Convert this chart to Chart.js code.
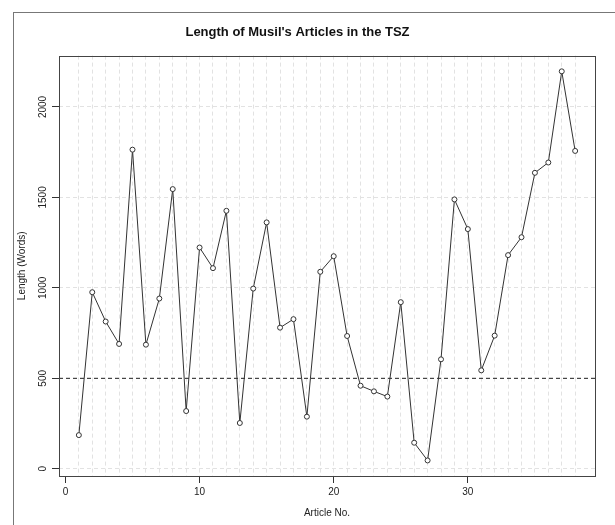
<!DOCTYPE html>
<html>
<head>
<meta charset="utf-8">
<script src="https://cdn.jsdelivr.net/npm/chart.js@4"></script>
<style>
    body { margin: 0; background: #fff; }
    #wrap { position: relative; width: 615px; height: 525px; }
    #frame { position: absolute; left: 13px; top: 12px; right: 0; bottom: 0; border-left: 1px solid #777; border-top: 1px solid #777; pointer-events: none; }
</style>
</head>
<body>
<div id="wrap">
    <canvas id="myChart" width="615" height="525"></canvas>
    <div id="frame"></div>
</div>
<script>
// article numbers and lengths (words)
const articles = [1, 2, 3, 4, 5, 6, 7, 8, 9, 10, 11, 12, 13, 14, 15, 16, 17, 18, 19,
    20, 21, 22, 23, 24, 25, 26, 27, 28, 29, 30, 31, 32, 33, 34, 35, 36, 37, 38]
const lengths = [186, 976, 814, 690, 1764, 686, 941, 1546, 319, 1223, 1109, 1426, 253, 996, 1362,
    780, 827, 288, 1089, 1175, 734, 459, 428, 399, 921, 144, 46, 605, 1489, 1325, 544,
    736, 1181, 1280, 1636, 1693, 2197, 1757]
const refLine = 500
const xTicks = [0, 10, 20, 30]
const yTicks = [0, 500, 1000, 1500, 2000]

const xMin = -0.48
const xMax = 39.48

const font = 'Liberation Sans, Arial, Helvetica, sans-serif'

const boxPlugin = {
    id: 'box',
    afterDraw(chart) {
        const a = chart.chartArea
        const c = chart.ctx
        c.save()
        c.strokeStyle = '#444'
        c.lineWidth = 1
        c.strokeRect(Math.round(a.left) + 0.5, Math.round(a.top) + 0.5, Math.round(a.right - a.left), Math.round(a.bottom - a.top))
        c.restore()
    }
}

const ctx = document.getElementById('myChart').getContext('2d')
const myChart = new Chart(ctx, {
    type: 'line',
    data: {
        datasets: [{
            data: articles.map((a, i) => ({ x: a, y: lengths[i] })),
            borderColor: '#333',
            borderWidth: 1,
            pointRadius: 2.5,
            pointBorderWidth: 1,
            pointBorderColor: '#333',
            pointBackgroundColor: '#fff',
            tension: 0
        }, {
            data: [{ x: xMin, y: refLine }, { x: xMax, y: refLine }],
            borderColor: '#222',
            borderWidth: 1,
            borderDash: [4, 3],
            pointRadius: 0
        }]
    },
    options: {
        responsive: false,
        animation: false,
        layout: { padding: { left: 0, right: 20, top: 0, bottom: 0 } },
        scales: {
            x: {
                type: 'linear',
                min: xMin,
                max: xMax,
                afterBuildTicks: (s) => {
                    s.ticks = [0].concat(articles).map(v => ({ value: v }))
                },
                afterFit: (s) => { s.height = 49 },
                grid: {
                    color: (c) => c.tick && c.tick.value === 0 ? 'rgba(0,0,0,0)' : '#e2e2e2',
                    tickColor: (c) => c.tick && xTicks.includes(c.tick.value) ? '#333' : 'rgba(0,0,0,0)',
                    tickBorderDash: [],
                    tickLength: 7
                },
                border: { display: false, dash: [4, 3] },
                ticks: {
                    autoSkip: false,
                    maxRotation: 0,
                    padding: 3,
                    color: '#222',
                    font: { family: font, size: 10 },
                    callback: (v) => xTicks.includes(v) ? String(v) : ''
                },
                title: {
                    display: true,
                    text: 'Article No.',
                    color: '#222',
                    font: { family: font, size: 10 },
                    padding: { top: 0, bottom: 6 }
                }
            },
            y: {
                min: -40,
                max: 2284,
                afterBuildTicks: (s) => {
                    s.ticks = yTicks.map(v => ({ value: v }))
                },
                afterFit: (s) => { s.width = 59 },
                grid: {
                    color: '#e2e2e2',
                    tickColor: '#333',
                    tickBorderDash: [],
                    tickLength: 7
                },
                border: { display: false, dash: [4, 3] },
                ticks: {
                    minRotation: 90,
                    maxRotation: 90,
                    crossAlign: 'center',
                    padding: -2,
                    color: '#222',
                    font: { family: font, size: 10 },
                    callback: (v) => String(v)
                },
                title: {
                    display: true,
                    text: 'Length (Words)',
                    color: '#222',
                    font: { family: font, size: 10 },
                    padding: { top: 16, bottom: 0 }
                }
            }
        },
        plugins: {
            legend: { display: false },
            tooltip: { enabled: false },
            title: {
                display: true,
                text: "Length of Musil's Articles in the TSZ",
                color: '#111',
                font: { family: font, size: 13, weight: 'bold' },
                padding: { top: 25, bottom: 15 }
            }
        }
    },
    plugins: [boxPlugin]
})
</script>
</body>
</html>
